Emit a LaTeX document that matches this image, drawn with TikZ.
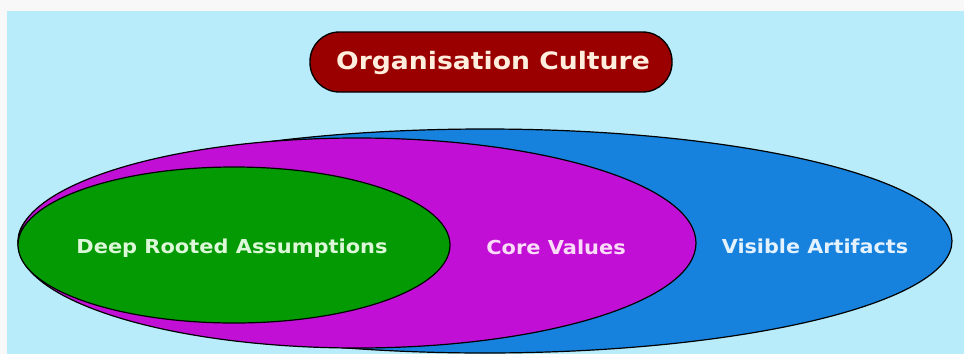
\documentclass[tikz,border=0pt]{standalone}
\usepackage{graphicx}
\usepackage{fontspec}
\setmainfont{DejaVu Sans}
\usetikzlibrary{shapes.geometric}
\definecolor{paper}{HTML}{F8F8F8}
\definecolor{sky}{HTML}{B8ECFA}
\definecolor{artblue}{HTML}{1682DD}
\definecolor{coremag}{HTML}{C20FD6}
\definecolor{deepgreen}{HTML}{039A03}
\definecolor{titlered}{HTML}{9B0000}
\definecolor{titletext}{HTML}{FFEEDD}
\definecolor{greentext}{HTML}{DDF8D8}
\definecolor{magtext}{HTML}{FADCF8}
\definecolor{bluetext}{HTML}{E4F2FF}
% wide bold lettering
\newcommand\widebold[2]{\scalebox{#1}[1]{#2}}
\tikzset{
  layer/.style={ellipse, draw=black, line width=0.9pt, inner sep=0pt},
  lbl/.style={font=\bfseries\fontsize{14.4}{16}\selectfont, anchor=base, inner sep=0pt},
  pill/.style={draw=black, line width=1pt, fill=titlered, rounded corners=22pt,
    minimum width=271.5pt, minimum height=45pt, inner sep=0pt}
}
\begin{document}
\begin{tikzpicture}[x=0.75pt, y=-0.75pt]
  \useasboundingbox (0,0) rectangle (964,354);
  % page and panel
  \fill[paper] (0,0) rectangle (964,354);
  \fill[sky] (7,11) rectangle (964,354);
  % title
  \node[pill] (title) at (491,62) {};
  \node[lbl, font=\bfseries\fontsize{18}{20}\selectfont, text=titletext] (titletxt) at (493,69)
    {\widebold{1.11}{Organisation Culture}};
  % nested layers of culture
  \node[layer, fill=artblue, minimum width=700.5pt, minimum height=168pt] (artifacts) at (485,241) {};
  \node[layer, fill=coremag, minimum width=508.5pt, minimum height=157.5pt] (values) at (357,243) {};
  \node[layer, fill=deepgreen, minimum width=324pt, minimum height=117pt] (assumptions) at (234,245) {};
  % labels
  \node[lbl, text=greentext] (assumptionstxt) at (232,253) {\widebold{1.09}{Deep Rooted Assumptions}};
  \node[lbl, text=magtext] (valuestxt) at (556,254) {\widebold{1.09}{Core Values}};
  \node[lbl, text=bluetext] (artifactstxt) at (815,253) {\widebold{1.08}{Visible Artifacts}};
\end{tikzpicture}
\end{document}
